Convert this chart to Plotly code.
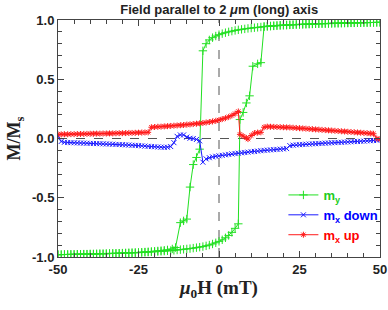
import plotly.graph_objects as go

# ---------------- data ----------------
# m_y, field sweeping down (+50 -> -50 mT)
h_y_down = list(range(50, -6, -1)) + [-6, -7, -8, -9, -10, -11, -12, -13.5, -14.5] + list(range(-16, -51, -1))
my_down = [0.980, 0.980, 0.979, 0.979, 0.978, 0.978, 0.977, 0.977, 0.976, 0.976,
           0.975, 0.975, 0.974, 0.973, 0.973, 0.972, 0.971, 0.970, 0.970, 0.969,
           0.968, 0.967, 0.966, 0.965, 0.964, 0.963, 0.962, 0.960, 0.959, 0.957,
           0.956, 0.954, 0.952, 0.950, 0.948, 0.946, 0.944, 0.941, 0.938, 0.935,
           0.932, 0.929, 0.925, 0.921, 0.917, 0.912, 0.906, 0.900, 0.893, 0.885,
           0.876, 0.865, 0.851, 0.832, 0.800, 0.740,
           -0.090, -0.160, -0.220, -0.410, -0.680, -0.695, -0.710, -0.920, -0.932,
           -0.940, -0.943, -0.946, -0.949, -0.952, -0.954, -0.956, -0.958, -0.960, -0.962,
           -0.963, -0.964, -0.965, -0.966, -0.967, -0.968, -0.969, -0.970, -0.971, -0.972,
           -0.973, -0.973, -0.974, -0.975, -0.975, -0.976, -0.976, -0.977, -0.977, -0.978,
           -0.978, -0.979, -0.979, -0.980, -0.980]

# m_y, field sweeping up (-50 -> +50 mT)
h_y_up = list(range(-50, 7)) + [6.5, 7.5, 8.5, 9.5, 10.5, 12, 13] + list(range(14, 51))
my_up = [-0.980, -0.980, -0.979, -0.979, -0.978, -0.978, -0.977, -0.977, -0.976, -0.976,
         -0.975, -0.975, -0.974, -0.973, -0.973, -0.972, -0.971, -0.970, -0.970, -0.969,
         -0.968, -0.967, -0.966, -0.965, -0.964, -0.963, -0.962, -0.960, -0.959, -0.957,
         -0.956, -0.954, -0.952, -0.950, -0.948, -0.946, -0.944, -0.941, -0.938, -0.935,
         -0.932, -0.929, -0.925, -0.921, -0.917, -0.912, -0.906, -0.899, -0.890, -0.880,
         -0.868, -0.855, -0.838, -0.818, -0.792, -0.758, -0.720,
         0.160, 0.220, 0.300, 0.360, 0.610, 0.630, 0.640,
         0.945, 0.948, 0.950, 0.952, 0.954, 0.956, 0.957,
         0.958, 0.959, 0.960, 0.962, 0.963, 0.964, 0.965, 0.966, 0.967, 0.968,
         0.969, 0.970, 0.970, 0.971, 0.972, 0.973, 0.973, 0.974, 0.975, 0.975,
         0.976, 0.976, 0.977, 0.977, 0.978, 0.978, 0.979, 0.979, 0.980, 0.980]

# m_x, field sweeping down
h_x_down = list(range(50, -51, -1))
mx_down = [-0.010, -0.015, -0.017, -0.019, -0.020, -0.022, -0.023, -0.025, -0.026, -0.028,
           -0.029, -0.030, -0.032, -0.033, -0.035, -0.036, -0.038, -0.039, -0.041, -0.042,
           -0.044, -0.045, -0.047, -0.048, -0.050, -0.052, -0.054, -0.056, -0.060,
           -0.085, -0.088, -0.090, -0.092, -0.094, -0.096, -0.098, -0.100, -0.103, -0.106, -0.109,
           -0.112, -0.115, -0.118, -0.121, -0.124, -0.127, -0.130, -0.134, -0.138, -0.142,
           -0.146, -0.150, -0.155, -0.162, -0.172, -0.200,
           -0.020, -0.008, 0.000, 0.002, 0.012, 0.030, 0.030, 0.018, -0.035,
           -0.068, -0.074, -0.074, -0.073, -0.072, -0.070,
           -0.068, -0.066, -0.064, -0.062, -0.060, -0.058, -0.057, -0.055, -0.054, -0.052,
           -0.051, -0.050, -0.048, -0.047, -0.046, -0.045, -0.044, -0.043, -0.042, -0.041,
           -0.040, -0.039, -0.038, -0.037, -0.036, -0.035, -0.034, -0.032, -0.025, 0.020]

# m_x, field sweeping up
h_x_up = list(range(-50, 7)) + [6.5, 7.5, 8.5] + list(range(9, 51))
mx_up = [0.035, 0.035, 0.036, 0.036, 0.037, 0.037, 0.038, 0.038, 0.039, 0.039,
         0.040, 0.040, 0.041, 0.041, 0.042, 0.042, 0.043, 0.043, 0.044, 0.045,
         0.045, 0.046, 0.047, 0.047, 0.048, 0.049, 0.050, 0.051, 0.052,
         0.095, 0.097, 0.099, 0.100, 0.102, 0.104, 0.106, 0.108, 0.110, 0.112, 0.114,
         0.117, 0.119, 0.122, 0.125, 0.128, 0.131, 0.135, 0.139, 0.144, 0.149,
         0.156, 0.164, 0.172, 0.182, 0.194, 0.210, 0.228,
         0.035, 0.020, 0.005,
         -0.005, 0.025, 0.045, 0.050, 0.052, 0.095, 0.100,
         0.099, 0.098, 0.097, 0.096, 0.095,
         0.094, 0.093, 0.091, 0.089, 0.087, 0.085, 0.083, 0.081, 0.079, 0.077,
         0.075, 0.073, 0.071, 0.069, 0.067, 0.065, 0.063, 0.061, 0.059, 0.057,
         0.055, 0.053, 0.051, 0.049, 0.047, 0.045, 0.043, 0.040, 0.000, -0.005]

assert len(h_y_down) == len(my_down)
assert len(h_y_up) == len(my_up)
assert len(h_x_down) == len(mx_down)
assert len(h_x_up) == len(mx_up)

x_tickvals = [-50, -25, 0, 25, 50]
x_ticktext = ["-50", "-25", "0", "25", "50"]
y_tickvals = [-1.0, -0.5, 0.0, 0.5, 1.0]
y_ticktext = ["-1.0", "-0.5", "0.0", "0.5", "1.0"]

GREEN = "#22e022"
BLUE = "#1a1aff"
RED = "#ff1a1a"

fig = go.Figure()
fig.add_trace(go.Scatter(
    x=h_y_down + h_y_up, y=my_down + my_up, mode="lines+markers",
    name='<span style="color:#22cc22">m<sub>y</sub></span>',
    line=dict(color=GREEN, width=1),
    marker=dict(symbol="cross-thin-open", size=6, color=GREEN, line=dict(color=GREEN, width=1)),
))
fig.add_trace(go.Scatter(
    x=h_x_down, y=mx_down, mode="lines+markers",
    name='<span style="color:#0000ff">m<sub>x</sub> down</span>',
    line=dict(color=BLUE, width=1),
    marker=dict(symbol="x-thin-open", size=5, color=BLUE, line=dict(color=BLUE, width=1)),
))
fig.add_trace(go.Scatter(
    x=h_x_up, y=mx_up, mode="lines+markers",
    name='<span style="color:#ff0000">m<sub>x</sub> up</span>',
    line=dict(color=RED, width=1),
    marker=dict(symbol="asterisk-open", size=5, color=RED, line=dict(color=RED, width=1)),
))

# dashed zero reference lines
fig.add_shape(type="line", xref="paper", yref="y", x0=0, x1=1, y0=0, y1=0,
              line=dict(color="#555555", width=1, dash="dash"), layer="below")
fig.add_shape(type="line", xref="x", yref="paper", x0=0, x1=0, y0=0, y1=1,
              line=dict(color="#555555", width=1, dash="dash"), layer="below")

axis_common = dict(
    showline=True, linecolor="#444444", linewidth=1, mirror="ticks",
    ticks="inside", ticklen=6, tickcolor="#444444", tickwidth=1,
    showgrid=False, zeroline=False, automargin=False,
    tickfont=dict(family="Liberation Sans", size=13, color="#222222", weight="bold"),
)

fig.update_xaxes(
    range=[-50, 50], tickvals=x_tickvals, ticktext=x_ticktext,
    minor=dict(dtick=5, ticks="inside", ticklen=4, tickcolor="#444444"),
    title=dict(text="<i>μ</i><sub>0</sub>H (mT)", standoff=4,
               font=dict(family="Liberation Serif", size=19, color="#222222", weight="bold")),
    **axis_common,
)
fig.update_yaxes(
    range=[-1.0, 1.0], tickvals=y_tickvals, ticktext=y_ticktext,
    minor=dict(dtick=0.1, ticks="inside", ticklen=4, tickcolor="#444444"),
    title=dict(text="M/M<sub>s</sub>", standoff=6,
               font=dict(family="Liberation Serif", size=18, color="#222222", weight="bold")),
    **axis_common,
)

fig.update_layout(
    width=388, height=310,
    margin=dict(l=58, r=8, t=20, b=53, autoexpand=False),
    paper_bgcolor="white", plot_bgcolor="white",
    title=dict(text="Field parallel to 2 <i>μ</i>m (long) axis", x=0.565, xanchor="center",
               y=0.968, yanchor="middle", automargin=False,
               font=dict(family="Liberation Sans", size=13, color="#222222", weight="bold")),
    legend=dict(x=0.70, y=0.325, xanchor="left", yanchor="top",
                bgcolor="rgba(0,0,0,0)", borderwidth=0, itemwidth=30,
                tracegroupgap=0,
                font=dict(family="Liberation Sans", size=13, weight="bold")),
    showlegend=True,
)

# remove the default 8px page margin so the 388x310 figure fills the window exactly
fig.write_html("out.html",
               config={"displayModeBar": False},
               post_script="document.body.style.margin='0px';document.body.style.overflow='hidden';")
